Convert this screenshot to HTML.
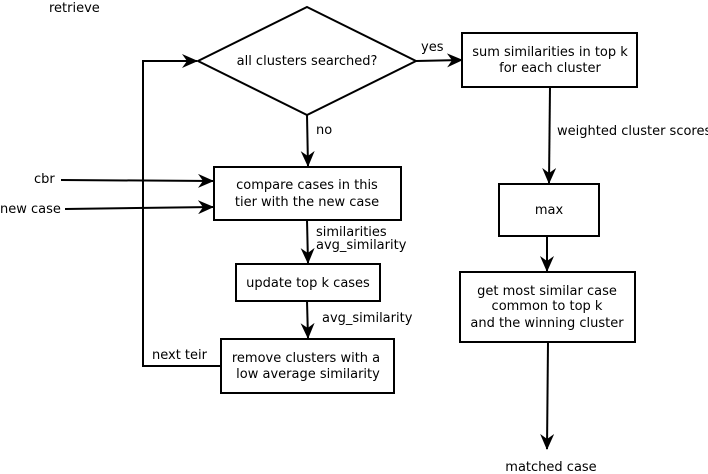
<!DOCTYPE html>
<html><head><meta charset="utf-8"><style>
html,body{margin:0;padding:0;background:#fff;}
svg{display:block;}
text{font-family:"DejaVu Sans","Liberation Sans",sans-serif;font-size:13px;fill:#000;}
</style></head><body>
<svg width="708" height="474" viewBox="0 0 708 474" xmlns="http://www.w3.org/2000/svg">
<defs>
<marker id="a" markerWidth="16" markerHeight="14" refX="15" refY="7" orient="auto" markerUnits="userSpaceOnUse">
<path d="M0,0 L16,7 L0,14 L5,7 Z" fill="#000"/>
</marker>
</defs>
<g stroke="#000" stroke-width="2" fill="none">
<polygon points="307,7 416,61 307,115 198,61" fill="#fff"/>
<rect x="462" y="33" width="175" height="54"/>
<rect x="499" y="184" width="100" height="52"/>
<rect x="460" y="272" width="175" height="70"/>
<rect x="214" y="167" width="187" height="53"/>
<rect x="236" y="264" width="144" height="37"/>
<rect x="221" y="339" width="173" height="54"/>
<line x1="416" y1="61" x2="462" y2="60" marker-end="url(#a)"/>
<line x1="550" y1="87" x2="549" y2="183" marker-end="url(#a)"/>
<line x1="547" y1="237" x2="547" y2="271" marker-end="url(#a)"/>
<line x1="548" y1="342" x2="547" y2="449" marker-end="url(#a)"/>
<line x1="307" y1="115" x2="308" y2="166" marker-end="url(#a)"/>
<line x1="61" y1="180" x2="213" y2="181" marker-end="url(#a)"/>
<line x1="65" y1="209" x2="213" y2="207" marker-end="url(#a)"/>
<line x1="307" y1="220" x2="308" y2="263" marker-end="url(#a)"/>
<line x1="307" y1="301" x2="308" y2="338" marker-end="url(#a)"/>
<polyline points="221,366 143,366 143,61 197,61" marker-end="url(#a)"/>
</g>
<text x="49" y="12">retrieve</text>
<text x="307" y="65" text-anchor="middle">all clusters searched?</text>
<text x="421" y="51">yes</text>
<text x="550" y="56" text-anchor="middle">sum similarities in top k</text>
<text x="550" y="72" text-anchor="middle">for each cluster</text>
<text x="557" y="135">weighted cluster scores</text>
<text x="549" y="214" text-anchor="middle">max</text>
<text x="547" y="295" text-anchor="middle">get most similar case</text>
<text x="547" y="310" text-anchor="middle">common to top k</text>
<text x="547" y="327" text-anchor="middle">and the winning cluster</text>
<text x="551" y="471" text-anchor="middle">matched case</text>
<text x="316" y="134">no</text>
<text x="307" y="189" text-anchor="middle">compare cases in this</text>
<text x="307" y="206" text-anchor="middle">tier with the new case</text>
<text x="34" y="183">cbr</text>
<text x="0" y="213">new case</text>
<text x="316" y="236">similarities</text>
<text x="316" y="249">avg_similarity</text>
<text x="308" y="287" text-anchor="middle">update top k cases</text>
<text x="322" y="322">avg_similarity</text>
<text x="306" y="362" text-anchor="middle">remove clusters with a</text>
<text x="308" y="378" text-anchor="middle">low average similarity</text>
<text x="152" y="359">next teir</text>
</svg>
</body></html>
